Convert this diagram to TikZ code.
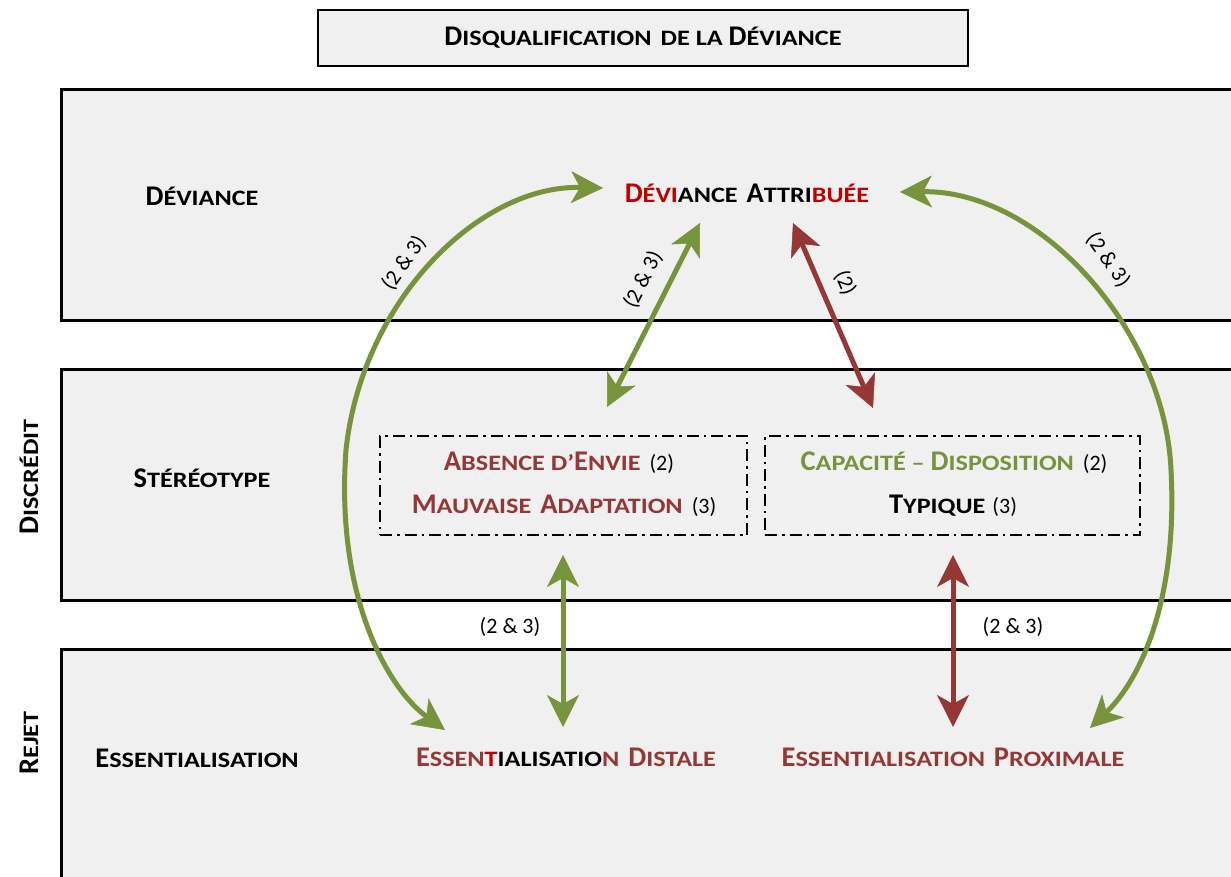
\documentclass[tikz,border=0pt]{standalone}
\usepackage{fontspec}
\setmainfont{Carlito}
\newfontfamily\scfont[FakeStretch=1.19]{Carlito}
\usetikzlibrary{arrows.meta}
\definecolor{bandfill}{HTML}{F0F0F0}
\definecolor{grn}{HTML}{77933C}
\definecolor{brk}{HTML}{953735}
\definecolor{crm}{HTML}{C00000}
\newcommand\Bg{\rmfamily\fontsize{28.5}{32}\selectfont}
\newcommand\Sm{\scfont\fontsize{22}{32}\selectfont}
\newcommand\Nm{\normalfont\fontsize{22}{26}\selectfont}
\newcommand\gap{\hspace{9pt}}
\tikzset{
  tipA/.tip={Stealth[length=32pt,width=32pt,inset=9pt,line width=0.5pt]},
  band/.style={draw=black,line width=3pt,fill=bandfill},
  ttl/.style={draw=black,line width=2.5pt,fill=bandfill,minimum width=650pt,minimum height=56pt,inner sep=0pt,font=\bfseries},
  stbox/.style={draw=black,line width=2pt,dash pattern=on 12pt off 5pt on 2.5pt off 5pt,minimum height=99pt,inner sep=0pt},
  txt/.style={inner sep=0pt,anchor=base,font=\bfseries},
  vtxt/.style={inner sep=0pt,anchor=center,rotate=90,font=\bfseries},
  num/.style={inner sep=0pt,anchor=center,font=\Nm},
  garrow/.style={draw=grn,line width=5pt,tipA-tipA},
  rarrow/.style={draw=brk,line width=5pt,tipA-tipA},
}
\begin{document}
\begin{tikzpicture}[x=1pt,y=-1pt]
\useasboundingbox (0,0) rectangle (1231,877);
\clip (0,0) rectangle (1231,877);
\fill[white] (0,0) rectangle (1231,877);
% bands
\draw[band] (61,90) rectangle (1270,320);
\draw[band] (61,369) rectangle (1270,600);
\draw[band] (61,649) rectangle (1270,920);
% title
\node[ttl] (title) at (643,38) {{\Bg D}{\Sm ISQUALIFICATION}\gap{\Sm DE LA }{\Bg D}{\Sm ÉVIANCE}};
% side labels
\node[vtxt] (discredit) at (29,477) {{\Bg D}{\Sm ISCRÉDIT}};
\node[vtxt] (rejet) at (29,743) {{\Bg R}{\Sm EJET}};
% row labels
\node[txt] (rowdev) at (202,206) {{\Bg D}{\Sm ÉVIANCE}};
\node[txt] (rowster) at (202,487) {{\Bg S}{\Sm TÉRÉOTYPE}};
\node[txt] (rowess) at (197,767) {{\Bg E}{\Sm SSENTIALISATION}};
% top node
\node[txt] (attr) at (747,203) {{\color{crm}\Bg D\Sm ÉVI}{\Sm ANCE}\gap{\Bg A}{\Sm TTRI}{\color{crm}\Sm BUÉE}};
% stereotype boxes
\node[stbox,minimum width=367pt] (boxA) at (563.5,485.5) {};
\node[stbox,minimum width=375pt] (boxB) at (952.5,485.5) {};
\node[txt] (absence) at (559,470) {{\color{brk}\Bg A\Sm BSENCE D’\Bg E\Sm NVIE}\gap{\Nm (2)}};
\node[txt] (mauvaise) at (564,513) {{\color{brk}\Bg M\Sm AUVAISE\gap\Bg A\Sm DAPTATION}\gap{\Nm (3)}};
\node[txt] (capacite) at (954,470) {{\color{grn}\Bg C\Sm APACITÉ – \Bg D\Sm ISPOSITION}\gap{\Nm (2)}};
\node[txt] (typique) at (953,513) {{\Bg T}{\Sm YPIQUE}\hspace{7pt}{\Nm (3)}};
% bottom nodes
\node[txt] (distale) at (566,766) {{\color{brk}\Bg E\Sm SSEN}{\color{crm}\Sm T}{\Sm IALISATIO}{\color{brk}\Sm N}\gap{\color{brk}\Bg D\Sm ISTALE}};
\node[txt] (proximale) at (953,766) {{\color{brk}\Bg E\Sm SSENTIALISATION\gap\Bg P\Sm ROXIMALE}};
% arrow end points
\coordinate (aL1) at (603,188);
\coordinate (aL2) at (445,730);
\coordinate (aR1) at (900,192);
\coordinate (aR2) at (1090,728);
\coordinate (mG1) at (700,223);
\coordinate (mG2) at (607,407);
\coordinate (mR1) at (793,223);
\coordinate (mR2) at (873,408);
\coordinate (vG1) at (563,555);
\coordinate (vG2) at (563,727);
\coordinate (vR1) at (953,555);
\coordinate (vR2) at (953,727);
% arrows
\draw[garrow] (aL1) .. controls (480,185) and (362,300) .. (346,450) .. controls (335,600) and (390,690) .. (aL2);
\draw[garrow] (aR1) .. controls (1040,190) and (1165,330) .. (1171,470) .. controls (1178,600) and (1140,680) .. (aR2);
\draw[garrow] (mG1) -- (mG2);
\draw[rarrow] (mR1) -- (mR2);
\draw[garrow] (vG1) -- (vG2);
\draw[rarrow] (vR1) -- (vR2);
% arrow labels
\node[num,rotate=55] (lblL) at (404,263) {(2 \& 3)};
\node[num,rotate=63] (lblMG) at (643,280) {(2 \& 3)};
\node[num,rotate=-66] (lblMR) at (845,283) {(2)};
\node[num,rotate=-55] (lblR) at (1108,260) {(2 \& 3)};
\node[num] (lblVG) at (510,627) {(2 \& 3)};
\node[num] (lblVR) at (1013,627) {(2 \& 3)};
\end{tikzpicture}
\end{document}
